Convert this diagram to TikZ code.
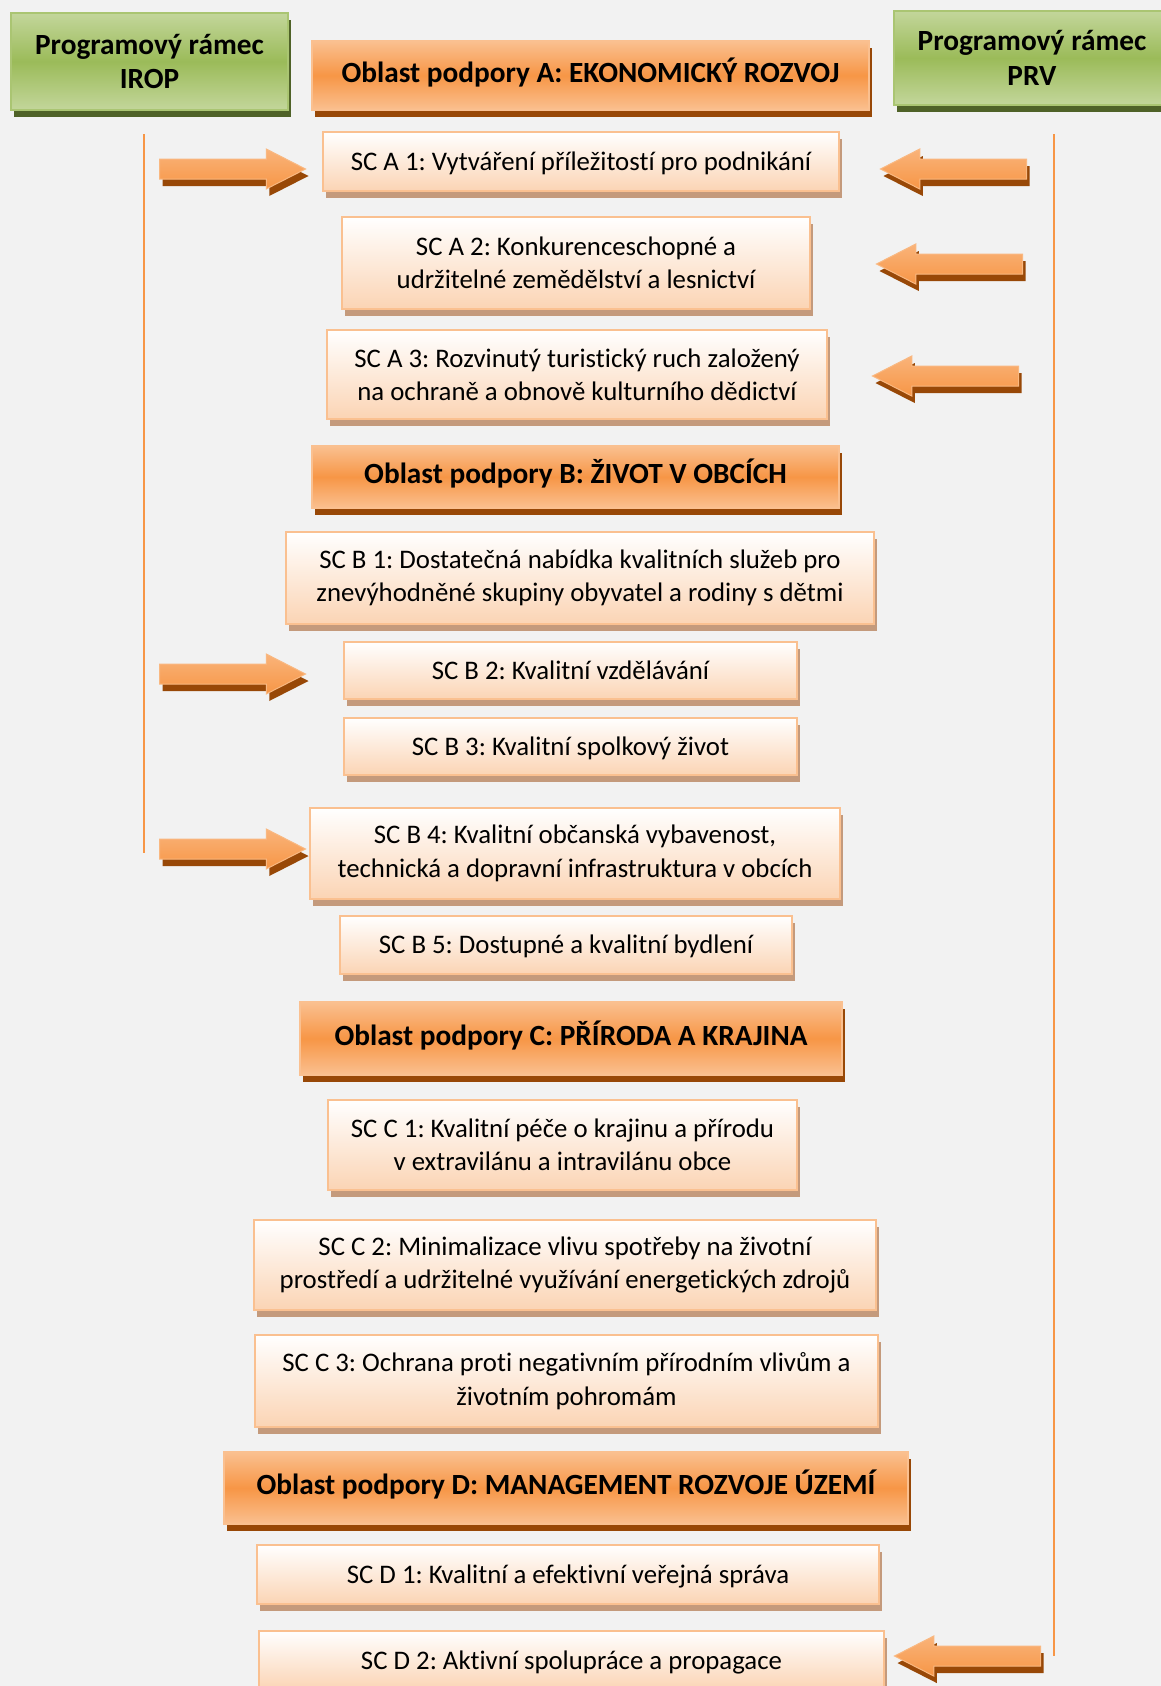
\documentclass[tikz,border=0pt]{standalone}
\usepackage{fontspec}
\setmainfont{Carlito}[Ligatures={NoCommon}]
\frenchspacing
\usetikzlibrary{shapes.arrows,shadows}
\definecolor{pozadi}{HTML}{F2F2F2}
\definecolor{oranz}{HTML}{F79646}
\definecolor{svoranz}{HTML}{FAC090}
\definecolor{broskev}{HTML}{FBD4B4}
\definecolor{hneda}{HTML}{984807}
\definecolor{stin}{HTML}{C49A7C}
\definecolor{zelena}{HTML}{9BBB59}
\definecolor{svzelena}{HTML}{C3D69B}
\definecolor{tmzelena}{HTML}{4F6228}
\begin{document}
\begin{tikzpicture}[x=1pt,y=-1pt,
  ramec/.style={draw=zelena!85!white, line width=2pt, top color=svzelena, bottom color=svzelena, middle color=zelena,
    general shadow={fill=tmzelena, shadow xshift=3pt, shadow yshift=-7pt}, align=center, inner sep=0pt,
    font=\fontsize{29.3}{34.4}\selectfont\bfseries},
  oblast/.style={draw=svoranz, line width=2pt, top color=svoranz, bottom color=svoranz, middle color=oranz,
    general shadow={fill=hneda, shadow xshift=3pt, shadow yshift=-7pt}, align=center, inner sep=0pt,
    text height=20pt, text depth=7pt, font=\fontsize{29.3}{34.4}\selectfont\bfseries},
  cil/.style={draw=svoranz, line width=2pt, top color=white, bottom color=broskev,
    general shadow={fill=stin, shadow xshift=3pt, shadow yshift=-7pt}, align=center, inner sep=0pt,
    font=\fontsize{26.8}{33.4}\selectfont},
  radek/.style={cil, text height=24pt, text depth=7pt},
  sipka/.style={single arrow, draw=svoranz!80!oranz, line width=1pt, top color=svoranz!70!oranz, bottom color=oranz,
    minimum height=146pt, minimum width=39pt, single arrow head extend=10pt, single arrow tip angle=54,
    inner xsep=0pt, inner ysep=9.5pt, anchor=tail,
    general shadow={fill=hneda, shadow xshift=3pt, shadow yshift=-7pt}},
  doleva/.style={sipka, shape border rotate=180},
  osa/.style={draw=oranz, line width=2pt}]
\fill[pozadi] (0,0) rectangle (1161,1686);
\useasboundingbox (0,0) rectangle (1161,1686);

\node[ramec, minimum width=277pt, minimum height=97pt] (irop) at (149.5,61.5) {Programový rámec\\IROP};
\node[ramec, minimum width=276pt, minimum height=94pt] (prv) at (1032,58) {Programový rámec\\PRV};

\node[oblast, minimum width=557pt, minimum height=69pt] (oa) at (590.5,75.5) {Oblast podpory A: EKONOMICKÝ ROZVOJ};
\node[radek, minimum width=516pt, minimum height=59pt] (a1) at (581,161.5) {SC A 1: Vytváření příležitostí pro podnikání};
\node[cil, minimum width=468pt, minimum height=92pt] (a2) at (576,263) {SC A 2: Konkurenceschopné a\\udržitelné zemědělství a lesnictví};
\node[cil, minimum width=500pt, minimum height=89pt] (a3) at (577,374.5) {SC A 3: Rozvinutý turistický ruch založený\\na ochraně a obnově kulturního dědictví};

\node[oblast, minimum width=527pt, minimum height=62pt] (ob) at (575.5,477) {Oblast podpory B: ŽIVOT V OBCÍCH};
\node[cil, minimum width=588pt, minimum height=92pt] (b1) at (580,578) {SC B 1: Dostatečná nabídka kvalitních služeb pro\\znevýhodněné skupiny obyvatel a rodiny s dětmi};
\node[radek, minimum width=453pt, minimum height=57pt] (b2) at (570.5,670.5) {SC B 2: Kvalitní vzdělávání};
\node[radek, minimum width=453pt, minimum height=57pt] (b3) at (570.5,746.5) {SC B 3: Kvalitní spolkový život};
\node[cil, minimum width=530pt, minimum height=91pt] (b4) at (575,853.5) {SC B 4: Kvalitní občanská vybavenost,\\technická a dopravní infrastruktura v obcích};
\node[radek, minimum width=452pt, minimum height=58pt] (b5) at (566,945) {SC B 5: Dostupné a kvalitní bydlení};

\node[oblast, minimum width=542pt, minimum height=73pt] (oc) at (571,1038.5) {Oblast podpory C: PŘÍRODA A KRAJINA};
\node[cil, minimum width=469pt, minimum height=90pt] (c1) at (562.5,1145) {SC C 1: Kvalitní péče o krajinu a přírodu\\v extravilánu a intravilánu obce};
\node[cil, minimum width=622pt, minimum height=90pt] (c2) at (565,1265) {SC C 2: Minimalizace vlivu spotřeby na životní\\prostředí a udržitelné využívání energetických zdrojů};
\node[cil, minimum width=623pt, minimum height=92pt] (c3) at (566.5,1381) {SC C 3: Ochrana proti negativním přírodním vlivům a\\životním pohromám};

\node[oblast, minimum width=684pt, minimum height=72pt] (od) at (566,1488) {Oblast podpory D: MANAGEMENT ROZVOJE ÚZEMÍ};
\node[radek, minimum width=622pt, minimum height=59pt] (d1) at (568,1574.5) {SC D 1: Kvalitní a efektivní veřejná správa};
\node[radek, minimum width=625pt, minimum height=59pt] (d2) at (571.5,1660.5) {SC D 2: Aktivní spolupráce a propagace};

\coordinate (irop horni) at (144,134);
\coordinate (irop dolni) at (144,853);
\coordinate (prv horni) at (1054,134);
\coordinate (prv dolni) at (1054,1656);
\draw[osa] (irop horni) -- (irop dolni);
\draw[osa] (prv horni) -- (prv dolni);

\node[sipka] (s1) at (159,169) {};
\node[sipka] (s2) at (159,674) {};
\node[sipka] (s3) at (159,849) {};
\node[doleva] (p1) at (1027,169) {};
\node[doleva] (p2) at (1023,264) {};
\node[doleva] (p3) at (1019,376) {};
\node[doleva] (p4) at (1041,1656) {};
\end{tikzpicture}
\end{document}
